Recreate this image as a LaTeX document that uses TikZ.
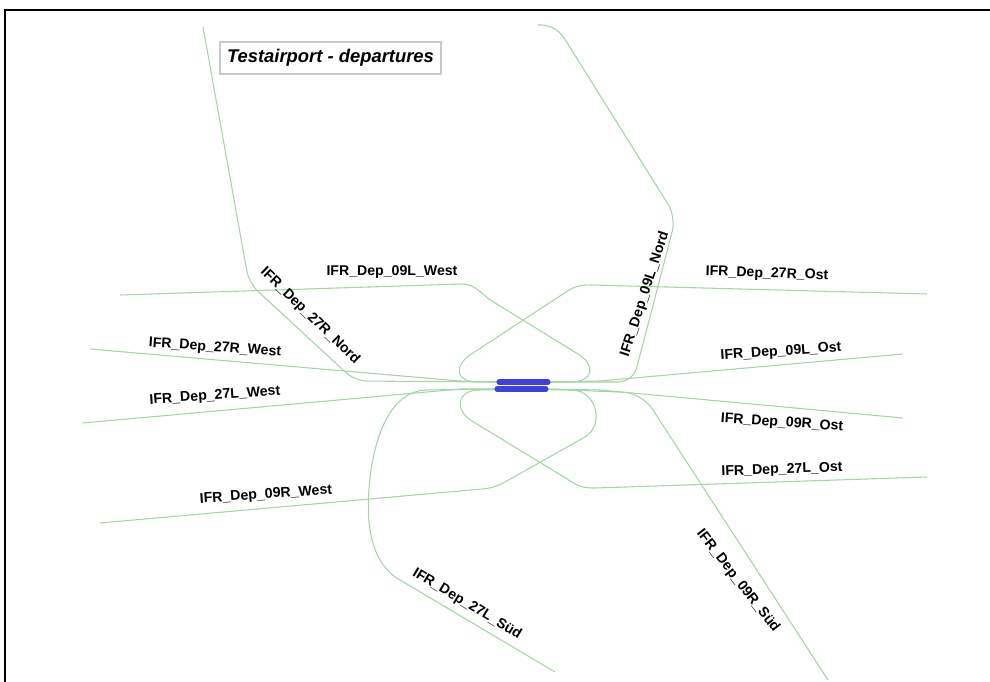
\documentclass[tikz,border=0pt]{standalone}
\usepackage{fontspec}
\setmainfont{Liberation Sans}
\definecolor{routegreen}{RGB}{165,212,165}
\definecolor{rwyblue}{RGB}{64,64,220}
\definecolor{boxgray}{RGB}{200,200,200}
\tikzset{
  routeline/.style={draw=routegreen, line width=0.8pt},
  rwybar/.style={draw=rwyblue, line width=3.8pt, line cap=round},
  lbl/.style={font=\bfseries\fontsize{10.6}{12}\selectfont, inner sep=0pt, text=black},
  titlebox/.style={draw=boxgray, fill=white, line width=0.8pt, inner sep=0pt,
    minimum width=165.75pt, minimum height=24pt,
    font=\bfseries\itshape\fontsize{13.8}{16}\selectfont},
  framerule/.style={draw=black, line width=1.7pt}
}
\begin{document}
\begin{tikzpicture}[x=0.75pt,y=-0.75pt]
\useasboundingbox (0,0) rectangle (990,682);
% frame
\coordinate (fbl) at (5,682);
\coordinate (ftl) at (5,10);
\coordinate (ftr) at (990,10);
\draw[framerule] (fbl) -- (ftl) -- (ftr);

% runway ends
\coordinate (r1w) at (499,382);
\coordinate (r1e) at (548,382);
\coordinate (r2w) at (497,389);
\coordinate (r2e) at (546,389);
% route ends
\coordinate (n27R) at (203,27);
\coordinate (n09L) at (538,25);
\coordinate (w09L) at (120,295);
\coordinate (o27R) at (927,294);
\coordinate (w27R) at (90,349);
\coordinate (o09L) at (903,354);
\coordinate (w27L) at (83,423);
\coordinate (o09R) at (903,418);
\coordinate (o27L) at (927,477);
\coordinate (w09R) at (100,523);
\coordinate (s27L) at (555,672);
\coordinate (s09R) at (828,680);

% routes
\draw[routeline, rounded corners=9pt] (r1w) -- (355,381) -- (249,283) -- (n27R);
\draw[routeline, rounded corners=11pt] (r1e) -- (633,382) -- (676,217) -- (556,25) -- (n09L);
\draw[routeline] (r1w) -- (570,382) .. controls (594,382) and (596,365) .. (578,354)
  -- (492,301) .. controls (482,295) and (476,284) .. (462,284) -- (w09L);
\draw[routeline] (r1e) -- (478,382) .. controls (455,382) and (454,366) .. (470,355)
  -- (566,292) .. controls (575,286) and (580,285) .. (592,285) -- (o27R);
\draw[routeline] (r2e) -- (478,390) .. controls (456,391) and (455,411) .. (472,421)
  -- (572,482) .. controls (580,487) and (585,488) .. (595,488) -- (o27L);
\draw[routeline] (r2w) -- (572,390) .. controls (598,391) and (604,426) .. (585,437)
  -- (505,482) .. controls (497,486) and (493,488) .. (482,489) -- (w09R);
\draw[routeline] (r1w) -- (460,381) -- (w27R);
\draw[routeline] (r2w) -- (460,389) -- (w27L);
\draw[routeline] (r1e) -- (600,381) -- (o09L);
\draw[routeline] (r2e) -- (600,390) -- (o09R);
\draw[routeline] (r2w) -- (425,390) .. controls (395,392) and (378,425) .. (371,470)
  .. controls (364,520) and (370,558) .. (395,577) -- (s27L);
\draw[routeline, rounded corners=14pt] (r2e) -- (642,393) -- (s09R);

% runways
\draw[rwybar] (r1w) -- (r1e);
\draw[rwybar] (r2w) -- (r2e);

% title
\node[titlebox] (title) at (330.5,58) {Testairport - departures};

% labels
\node[lbl] (t09LW) at (392,272) {IFR\_Dep\_09L\_West};
\node[lbl, rotate=-44] (t27RN) at (310,316) {IFR\_Dep\_27R\_Nord};
\node[lbl, rotate=-4] (t27RW) at (215,348) {IFR\_Dep\_27R\_West};
\node[lbl, rotate=4] (t27LW) at (215,396) {IFR\_Dep\_27L\_West};
\node[lbl, rotate=4] (t09RW) at (266,495) {IFR\_Dep\_09R\_West};
\node[lbl, rotate=-31] (t27LS) at (467,604) {IFR\_Dep\_27L\_Süd};
\node[lbl, rotate=-52] (t09RS) at (738,581) {IFR\_Dep\_09R\_Süd};
\node[lbl, rotate=2] (t27LO) at (782,470) {IFR\_Dep\_27L\_Ost};
\node[lbl, rotate=-4] (t09RO) at (782,423) {IFR\_Dep\_09R\_Ost};
\node[lbl, rotate=4] (t09LO) at (781,352) {IFR\_Dep\_09L\_Ost};
\node[lbl, rotate=-2] (t27RO) at (767,274) {IFR\_Dep\_27R\_Ost};
\node[lbl, rotate=72] (t09LN) at (645,294) {IFR\_Dep\_09L\_Nord};
\end{tikzpicture}
\end{document}
